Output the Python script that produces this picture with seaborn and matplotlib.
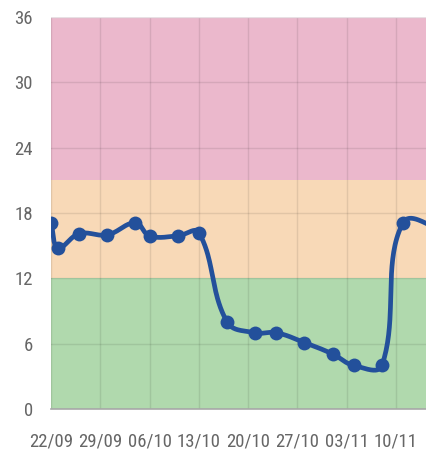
import numpy as np
import pandas as pd
import matplotlib
matplotlib.use("Agg")
import matplotlib.pyplot as plt
from matplotlib import font_manager
import seaborn as sns

# ---- data ----
days = [0, 1, 4, 8, 12, 14, 18, 21, 25, 29, 32, 36, 40, 43, 47, 50, 57]
values = [17.1, 14.8, 16.1, 16.0, 17.1, 15.9, 15.9, 16.2, 8.0, 7.0, 7.0, 6.1, 5.05, 4.0, 4.0, 17.1, 16.0]
tick_days = [0, 7, 14, 21, 28, 35, 42, 49]
tick_labels = ["22/09", "29/09", "06/10", "13/10", "20/10", "27/10", "03/11", "10/11"]
y_ticks = [0, 6, 12, 18, 24, 30, 36]
bands = [(0, 12, "#b0d9ad"), (12, 21, "#f8d9b7"), (21, 36, "#ebb8cc")]

sns.set_theme(style="white")
names = {f.name for f in font_manager.fontManager.ttflist}
family = "Liberation Sans"
fsize = 12.0
for cand in ["Liberation Sans Narrow", "Roboto Condensed", "Open Sans Condensed", "DejaVu Sans Condensed"]:
    if cand in names:
        family = cand
        fsize = 13.5
        break
plt.rcParams["font.family"] = [family, "DejaVu Sans"]

W, H = 427, 450
fig = plt.figure(figsize=(W / 100, H / 100), dpi=100)
left, right, top, bottom = 51, 427, 17, 409
ax = fig.add_axes([left / W, 1 - bottom / H, (right - left) / W, (bottom - top) / H])

xmax = 53.4
ax.set_xlim(0, xmax)
ax.set_ylim(0, 36)

for lo, hi, c in bands:
    ax.axhspan(lo, hi, color=c, zorder=0, lw=0)

# Chart.js-like spline (tension 0.4) computed in pixel space
sx = (right - left) / xmax
sy = (bottom - top) / 36.0
P = np.column_stack([np.array(days, float) * sx, np.array(values, float) * sy])
n = len(P)
prev_cp = np.zeros_like(P)
next_cp = np.zeros_like(P)
t = 0.4
for i in range(n):
    a = P[max(i - 1, 0)]
    b = P[i]
    c = P[min(i + 1, n - 1)]
    d01 = np.hypot(*(b - a))
    d12 = np.hypot(*(c - b))
    tot = d01 + d12
    s01 = d01 / tot if tot else 0
    s12 = d12 / tot if tot else 0
    prev_cp[i] = b - t * s01 * (c - a)
    next_cp[i] = b + t * s12 * (c - a)
prev_cp[:, 1] = np.clip(prev_cp[:, 1], 0, 36 * sy)
next_cp[:, 1] = np.clip(next_cp[:, 1], 0, 36 * sy)
curve = []
tt = np.linspace(0, 1, 40)[:, None]
for i in range(n - 1):
    p0, p1, p2, p3 = P[i], next_cp[i], prev_cp[i + 1], P[i + 1]
    seg = (1 - tt) ** 3 * p0 + 3 * (1 - tt) ** 2 * tt * p1 + 3 * (1 - tt) * tt ** 2 * p2 + tt ** 3 * p3
    curve.append(seg if i == 0 else seg[1:])
curve = np.vstack(curve)
curve_df = pd.DataFrame({"day": curve[:, 0] / sx, "value": curve[:, 1] / sy})
pts_df = pd.DataFrame({"day": days, "value": values})

line_color = "#23509b"
sns.lineplot(data=curve_df, x="day", y="value", sort=False, ax=ax, color=line_color,
             lw=3.4, zorder=3, estimator=None)
sns.scatterplot(data=pts_df, x="day", y="value", ax=ax, color=line_color, s=100,
                edgecolor=line_color, linewidth=0, zorder=4)

ax.set_xticks(tick_days)
ax.set_xticklabels(tick_labels)
ax.set_yticks(y_ticks)
ax.set_yticklabels([str(v) for v in y_ticks])
ax.grid(True, color="#000000", alpha=0.09, lw=1)
for g in ax.get_xgridlines() + ax.get_ygridlines():
    g.set_zorder(1)

ax.tick_params(axis="both", length=10, width=1, color="#d9d9d9", labelsize=fsize,
               labelcolor="#666666", pad=3, direction="out")
ax.tick_params(axis="x", pad=7)
ax.set_xlabel("")
ax.set_ylabel("")
for s in ["top", "right", "left"]:
    ax.spines[s].set_visible(False)
ax.spines["bottom"].set_color("#a8a8a8")
ax.spines["bottom"].set_linewidth(1.2)
ax.spines["bottom"].set_zorder(2)
ax.axhline(36, color="#e8e0e4", lw=1, zorder=2)

fig.savefig("out.png", dpi=100)
